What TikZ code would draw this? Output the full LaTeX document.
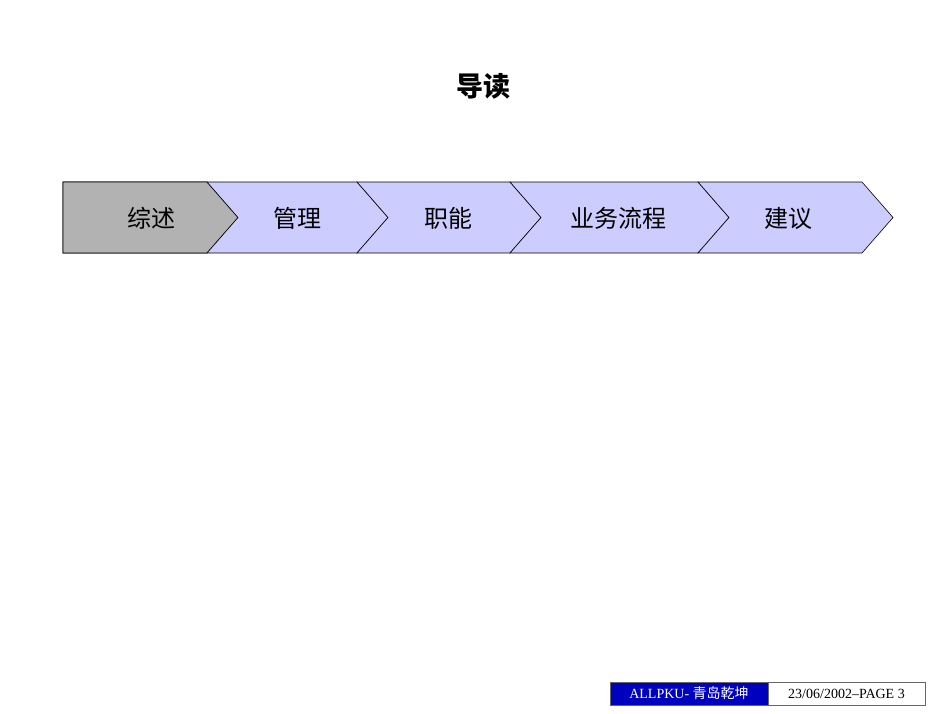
\documentclass[tikz,border=0pt]{standalone}
\usepackage{fontspec}
\setmainfont{Liberation Serif}
\newfontfamily\cjk{Noto Sans CJK SC}
\tikzset{chev/.style={draw=black,line width=0.6pt,fill=blue!20!white},
lab/.style={font=\cjk\fontsize{24}{26}\selectfont}}
\begin{document}
\begin{tikzpicture}[x=1pt,y=-1pt]
\useasboundingbox[fill=white] (0,0) rectangle (950,713);
\node[font=\cjk\bfseries\fontsize{27}{30}\selectfont] (title) at (483,86) {导读};
\fill[chev] (63,182) -- (207,182) -- (238,217.5) -- (207,253) -- (63,253) -- cycle;
\fill[draw=black,line width=0.6pt,fill=black!30] (63,182) -- (207,182) -- (238,217.5) -- (207,253) -- (63,253) -- cycle;
\fill[chev] (207,182) -- (357,182) -- (388,217.5) -- (357,253) -- (207,253) -- (238,217.5) -- cycle;
\fill[chev] (357,182) -- (510,182) -- (541,217.5) -- (510,253) -- (357,253) -- (388,217.5) -- cycle;
\fill[chev] (510,182) -- (698,182) -- (729,217.5) -- (698,253) -- (510,253) -- (541,217.5) -- cycle;
\fill[chev] (698,182) -- (862,182) -- (893,217.5) -- (862,253) -- (698,253) -- (729,217.5) -- cycle;
\node[lab] (a) at (151,218) {综述};
\node[lab] (b) at (297,218) {管理};
\node[lab] (c) at (448,218) {职能};
\node[lab] (d) at (618,218) {业务流程};
\node[lab] (e) at (788,218) {建议};
\node[draw=black!60,fill=blue!75!black,minimum width=158pt,minimum height=23pt,text=white,font=\fontsize{14}{16}\selectfont,inner sep=0] (f1) at (689,693.5) {ALLPKU- {\cjk 青岛乾坤}};
\node[draw=black!60,fill=white,minimum width=157pt,minimum height=23pt,font=\fontsize{14}{16}\selectfont,inner sep=0] (f2) at (846.5,693.5) {23/06/2002--PAGE 3};
\end{tikzpicture}
\end{document}
